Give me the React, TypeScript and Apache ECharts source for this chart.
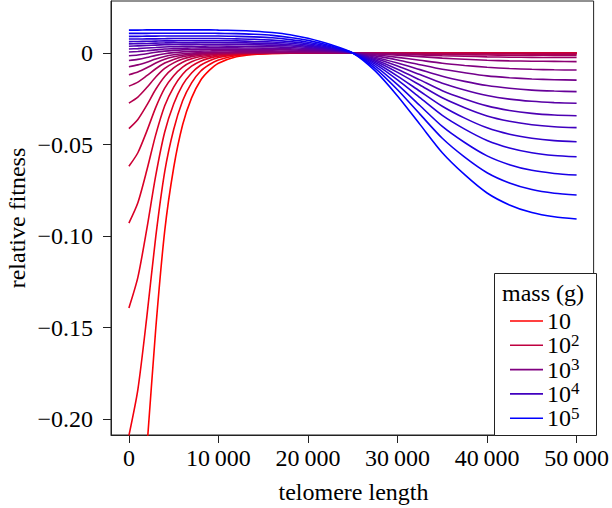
import React, { useEffect, useRef } from "react";
import * as echarts from "echarts";

// telomere length sample points (x)
const telomere = [0, 1000, 2000, 3000, 4000, 5000, 6000, 7000, 8000, 9000, 10000, 12000, 14000, 16000, 18000, 20000, 22500, 25000, 27500, 30000, 32500, 35000, 37500, 40000, 42500, 45000, 47500, 50000];

// relative fitness, one array per body mass (10^1 ... 10^5, log-spaced)
const f0 = [-0.3135, -0.2759, -0.2163, -0.1505, -0.0972, -0.0627, -0.0392, -0.0245, -0.015, -0.0094, -0.0056, -0.0021, -0.0008, -0.0003, -0.0001, 0, 0, 0, 0, 0, 0, 0, 0, 0, 0, 0, 0, 0];
const f1 = [-0.209, -0.1839, -0.1442, -0.1003, -0.0648, -0.0418, -0.0261, -0.0163, -0.01, -0.0063, -0.0038, -0.0014, -0.0005, -0.0002, -0.0001, 0, 0, 0, 0, 0, 0, 0, 0, 0, 0, 0, 0, 0];
const f2 = [-0.1393, -0.1226, -0.0961, -0.0669, -0.0432, -0.0279, -0.0174, -0.0109, -0.0067, -0.0042, -0.0025, -0.0009, -0.0003, -0.0001, 0, 0, 0, 0, 0, 0, 0, 0, 0, 0, 0, 0, 0, 0];
const f3 = [-0.0929, -0.0818, -0.0641, -0.0446, -0.0288, -0.0186, -0.0116, -0.0072, -0.0045, -0.0028, -0.0017, -0.0006, -0.0002, -0.0001, 0, 0, 0, 0, 0, 0, 0, 0, 0, 0, 0, 0, 0, 0];
const f4 = [-0.0619, -0.0545, -0.0427, -0.0297, -0.0192, -0.0124, -0.0077, -0.0048, -0.003, -0.0019, -0.0011, -0.0004, -0.0001, -0.0001, 0, 0, 0, 0, 0, 0, 0, -0.0001, -0.0001, -0.0001, -0.0001, -0.0001, -0.0001, -0.0001];
const f5 = [-0.0413, -0.0363, -0.0285, -0.0198, -0.0128, -0.0082, -0.0051, -0.0032, -0.0019, -0.0012, -0.0007, -0.0002, 0, 0, 0, 0, 0, 0, 0, -0.0001, -0.0001, -0.0002, -0.0002, -0.0003, -0.0003, -0.0003, -0.0003, -0.0003];
const f6 = [-0.0274, -0.0241, -0.0189, -0.0131, -0.0084, -0.0054, -0.0033, -0.002, -0.0012, -0.0007, -0.0004, -0.0001, 0, 0.0001, 0.0001, 0.0001, 0, 0, -0.0001, -0.0002, -0.0003, -0.0004, -0.0004, -0.0005, -0.0005, -0.0006, -0.0006, -0.0006];
const f7 = [-0.0181, -0.0159, -0.0124, -0.0086, -0.0055, -0.0035, -0.0021, -0.0012, -0.0007, -0.0003, -0.0001, 0.0001, 0.0002, 0.0002, 0.0002, 0.0001, 0.0001, 0, -0.0001, -0.0003, -0.0006, -0.0008, -0.001, -0.0011, -0.0012, -0.0012, -0.0013, -0.0013];
const f8 = [-0.0119, -0.0104, -0.0081, -0.0055, -0.0034, -0.0021, -0.0012, -0.0006, -0.0002, 0, 0.0001, 0.0003, 0.0003, 0.0003, 0.0003, 0.0002, 0.0001, 0, -0.0003, -0.0006, -0.0011, -0.0015, -0.0018, -0.0021, -0.0023, -0.0024, -0.0025, -0.0025];
const f9 = [-0.0075, -0.0065, -0.005, -0.0033, -0.0019, -0.001, -0.0004, 0, 0.0003, 0.0004, 0.0005, 0.0006, 0.0006, 0.0006, 0.0005, 0.0004, 0.0002, 0, -0.0005, -0.0012, -0.002, -0.0028, -0.0034, -0.004, -0.0043, -0.0045, -0.0046, -0.0047];
const f10 = [-0.0041, -0.0035, -0.0025, -0.0013, -0.0004, 0.0002, 0.0006, 0.0009, 0.001, 0.0011, 0.0012, 0.0012, 0.0012, 0.0012, 0.001, 0.0008, 0.0005, 0, -0.001, -0.0024, -0.004, -0.0056, -0.0068, -0.0078, -0.0085, -0.0089, -0.0092, -0.0093];
const f11 = [-0.0015, -0.0011, -0.0004, 0.0004, 0.001, 0.0014, 0.0017, 0.0018, 0.0019, 0.002, 0.002, 0.002, 0.002, 0.0019, 0.0017, 0.0013, 0.0008, 0, -0.0016, -0.0038, -0.0064, -0.0089, -0.0108, -0.0125, -0.0135, -0.0142, -0.0146, -0.0148];
const f12 = [0.0005, 0.0008, 0.0012, 0.0017, 0.0022, 0.0024, 0.0026, 0.0027, 0.0028, 0.0028, 0.0028, 0.0028, 0.0027, 0.0026, 0.0023, 0.0018, 0.0011, 0, -0.0023, -0.0055, -0.0091, -0.0127, -0.0155, -0.0178, -0.0193, -0.0203, -0.0208, -0.0211];
const f13 = [0.0022, 0.0024, 0.0027, 0.003, 0.0033, 0.0035, 0.0036, 0.0037, 0.0037, 0.0038, 0.0038, 0.0037, 0.0036, 0.0034, 0.003, 0.0024, 0.0014, 0, -0.003, -0.0071, -0.0118, -0.0165, -0.0202, -0.0232, -0.0252, -0.0264, -0.0271, -0.0275];
const f14 = [0.0037, 0.0039, 0.0041, 0.0043, 0.0045, 0.0046, 0.0047, 0.0047, 0.0048, 0.0048, 0.0048, 0.0047, 0.0045, 0.0043, 0.0038, 0.003, 0.0018, 0, -0.0037, -0.0089, -0.0147, -0.0206, -0.0251, -0.0289, -0.0314, -0.033, -0.0339, -0.0343];
const f15 = [0.005, 0.0051, 0.0052, 0.0054, 0.0055, 0.0056, 0.0056, 0.0056, 0.0057, 0.0057, 0.0057, 0.0056, 0.0054, 0.0051, 0.0045, 0.0036, 0.0021, 0, -0.0044, -0.0106, -0.0175, -0.0245, -0.0299, -0.0344, -0.0373, -0.0392, -0.0403, -0.0408];
const f16 = [0.0062, 0.0063, 0.0064, 0.0065, 0.0066, 0.0066, 0.0067, 0.0067, 0.0067, 0.0067, 0.0067, 0.0066, 0.0063, 0.006, 0.0053, 0.0043, 0.0024, 0, -0.0052, -0.0126, -0.0209, -0.0291, -0.0356, -0.0409, -0.0444, -0.0466, -0.0479, -0.0485];
const f17 = [0.0076, 0.0076, 0.0077, 0.0077, 0.0078, 0.0079, 0.0079, 0.0079, 0.0079, 0.0079, 0.0079, 0.0077, 0.0075, 0.007, 0.0062, 0.005, 0.0029, 0, -0.0061, -0.0147, -0.0244, -0.0341, -0.0416, -0.0478, -0.0519, -0.0545, -0.056, -0.0567];
const f18 = [0.0091, 0.0091, 0.0092, 0.0092, 0.0093, 0.0093, 0.0093, 0.0093, 0.0093, 0.0093, 0.0093, 0.0091, 0.0088, 0.0083, 0.0073, 0.0059, 0.0034, 0, -0.0072, -0.0173, -0.0287, -0.0401, -0.0489, -0.0562, -0.061, -0.0641, -0.0658, -0.0667];
const f19 = [0.0107, 0.0107, 0.0107, 0.0108, 0.0108, 0.0108, 0.0108, 0.0108, 0.0108, 0.0108, 0.0107, 0.0106, 0.0102, 0.0096, 0.0085, 0.0069, 0.0039, 0, -0.0084, -0.0201, -0.0334, -0.0466, -0.0569, -0.0654, -0.071, -0.0746, -0.0766, -0.0776];
const f20 = [0.0125, 0.0125, 0.0126, 0.0126, 0.0126, 0.0126, 0.0126, 0.0126, 0.0126, 0.0126, 0.0125, 0.0123, 0.0119, 0.0112, 0.01, 0.008, 0.0046, 0, -0.0098, -0.0235, -0.039, -0.0545, -0.0665, -0.0765, -0.083, -0.0872, -0.0895, -0.0907];

const curves = [f0, f1, f2, f3, f4, f5, f6, f7, f8, f9, f10, f11, f12, f13, f14, f15, f16, f17, f18, f19, f20];

const xTicks = [0, 10000, 20000, 30000, 40000, 50000];
const yTicks = [0, -0.05, -0.1, -0.15, -0.2];

const legendTitle = "mass (g)";
const legendBase = ["10", "10", "10", "10", "10"];
const legendExp = ["", "2", "3", "4", "5"];
const legendCurveIndex = [0, 5, 10, 15, 20];

const FONT = '"Liberation Serif", "Times New Roman", Times, serif';
const INK = "#222222";

function colorFor(k: number, n: number) {
  const t = k / (n - 1);
  const r = Math.round(255 * (1 - t));
  const b = Math.round(255 * t);
  return `rgb(${r},0,${b})`;
}

export default function App() {
  const ref = useRef<HTMLDivElement>(null);

  useEffect(() => {
    document.body.style.margin = "0";
    const chart = echarts.init(ref.current!, null, { renderer: "svg" });
    const n = curves.length;

    const series: any[] = curves.map((vals, k) => ({
      type: "line",
      data: telomere.map((t, i) => [t, vals[i]]),
      symbol: "none",
      showSymbol: false,
      smooth: 0.25,
      clip: true,
      silent: true,
      lineStyle: { width: 1.6, color: colorFor(k, n) },
      z: 2,
    }));

    const left = 111, right = 596, top = 1, bottom = 435;

    const legX = 494, legY = 273;
    const graphic: any[] = [
      {
        type: "rect",
        shape: { x: legX + 0.5, y: legY + 0.5, width: right - legX, height: bottom - legY },
        style: { fill: "#ffffff", stroke: INK, lineWidth: 1 },
        z: 10,
      },
      {
        type: "text",
        x: 502,
        y: 293,
        style: { text: legendTitle, font: `24px ${FONT}`, fill: "#000", textAlign: "left", textVerticalAlign: "middle" },
        z: 11,
      },
      {
        type: "text",
        x: (left + right) / 2,
        y: 492,
        style: { text: "telomere length", font: `24px ${FONT}`, fill: "#000", textAlign: "center", textVerticalAlign: "middle" },
        z: 11,
      },
      {
        type: "text",
        x: 17,
        y: (top + bottom) / 2,
        rotation: Math.PI / 2,
        style: { text: "relative fitness", font: `24px ${FONT}`, fill: "#000", textAlign: "center", textVerticalAlign: "middle" },
        z: 11,
      },
    ];

    legendBase.forEach((base, i) => {
      const y = 321 + i * 24.3;
      graphic.push({
        type: "line",
        shape: { x1: 510, y1: y, x2: 543, y2: y },
        style: { stroke: colorFor(legendCurveIndex[i], n), lineWidth: 1.6 },
        z: 11,
      });
      graphic.push({
        type: "text",
        x: 547,
        y: y,
        style: { text: base, font: `24px ${FONT}`, fill: "#000", textAlign: "left", textVerticalAlign: "middle" },
        z: 11,
      });
      if (legendExp[i]) {
        graphic.push({
          type: "text",
          x: 571,
          y: y - 5,
          style: { text: legendExp[i], font: `17px ${FONT}`, fill: "#000", textAlign: "left", textVerticalAlign: "middle" },
          z: 11,
        });
      }
    });

    chart.setOption({
      animation: false,
      grid: {
        left,
        right: 612 - right,
        top,
        bottom: 508 - bottom,
        show: true,
        borderColor: INK,
        borderWidth: 1,
        backgroundColor: "transparent",
      },
      xAxis: {
        type: "value",
        min: -2000,
        max: 51900,
        axisLine: { show: true, onZero: false, lineStyle: { color: INK, width: 1 } },
        axisTick: { show: true, customValues: xTicks, length: 8, inside: false, lineStyle: { color: INK, width: 1 } },
        axisLabel: {
          customValues: xTicks,
          margin: 11,
          color: "#000",
          fontFamily: FONT,
          fontSize: 24,
          formatter: (v: number) => (v === 0 ? "0" : String(v / 1000) + "\u2009000"),
        },
        splitLine: { show: false },
      },
      yAxis: {
        type: "value",
        min: -0.2087,
        max: 0.0284,
        axisLine: { show: true, onZero: false, lineStyle: { color: INK, width: 1 } },
        axisTick: { show: true, customValues: yTicks, length: 8, inside: false, lineStyle: { color: INK, width: 1 } },
        axisLabel: {
          customValues: yTicks,
          margin: 18,
          color: "#000",
          fontFamily: FONT,
          fontSize: 24,
          formatter: (v: number) => (Math.abs(v) < 1e-9 ? "0" : "\u2212" + Math.abs(v).toFixed(2)),
        },
        splitLine: { show: false },
      },
      series,
      graphic,
    });

    return () => chart.dispose();
  }, []);

  return <div ref={ref} style={{ width: 612, height: 508 }} />;
}
